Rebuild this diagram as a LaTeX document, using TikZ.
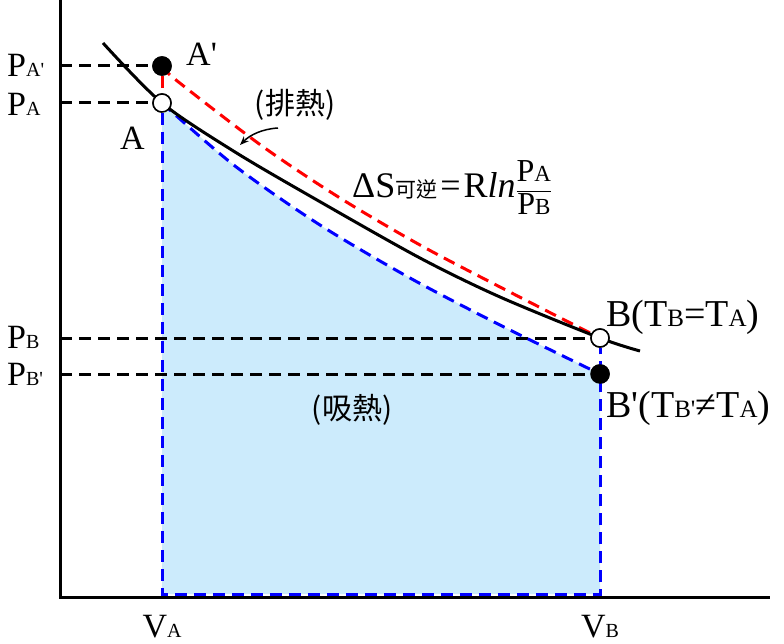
\documentclass[tikz,border=0pt]{standalone}
\usepackage{fontspec}
\setmainfont{Liberation Serif}[Ligatures=TeXOff]
\newfontfamily\cjk{Noto Sans CJK TC}
\usetikzlibrary{arrows.meta}
\definecolor{heatfill}{RGB}{204,235,252}
\newcommand{\lo}[1]{{\fontsize{20}{20}\selectfont #1}}
\newcommand{\lob}[1]{{\fontsize{25}{25}\selectfont #1}}
\newcommand{\lof}[1]{{\fontsize{23}{23}\selectfont #1}}

\begin{document}
\begin{tikzpicture}[x=1pt,y=-1pt,
  lab/.style={font=\fontsize{34}{40}\selectfont,inner sep=0pt},
  blab/.style={font=\fontsize{38}{44}\selectfont,inner sep=0pt},
  flab/.style={font=\rmfamily\fontsize{36}{42}\selectfont,inner sep=0pt},
  cjklab/.style={font=\cjk\fontsize{30}{32}\selectfont,inner sep=0pt},
  pt/.style={circle,draw,line width=1.5pt,minimum size=18pt,inner sep=0pt},
  open/.style={pt,fill=white},
  full/.style={pt,fill=black},
  guide/.style={line width=3pt,dash pattern=on 12pt off 7pt},
  axis/.style={line width=3pt}]
  \useasboundingbox (0,0) rectangle (784,644);
  \coordinate (top) at (60,0);
  \coordinate (o) at (60,597);
  \coordinate (right) at (770,597);
  \coordinate (pAp) at (60,66);
  \coordinate (pA) at (60,103);
  \coordinate (pB) at (60,338);
  \coordinate (pBp) at (60,374);
  \coordinate (VA) at (162,594);
  \coordinate (VB) at (600,594);
  \node[open] (A) at (162,103) {};
  \node[full] (Ap) at (162,66) {};
  \node[open] (B) at (600,338) {};
  \node[full] (Bp) at (600,374) {};

  \fill[heatfill] (VA) -- plot[smooth] coordinates {(162,103) (235,166) (320,225) (410,278) (500,325) (600,374)} -- (VB) -- cycle;
  \draw[axis] (top) -- (o) -- (right);

  \draw[guide] (pAp) -- (Ap);
  \draw[guide] (pA) -- (A);
  \draw[guide] (pB) -- (B);
  \draw[guide] (pBp) -- (Bp);

  \draw[guide,blue] (A) -- (VA) -- (VB) -- (B);
  \draw[guide,blue] plot[smooth] coordinates {(162,103) (235,166) (320,225) (410,278) (500,325) (600,374)};
  \draw[guide,red] (Ap) -- (A);
  \draw[guide,red] plot[smooth] coordinates {(162,66) (176,80) (262,146) (340,198) (420,245) (500,287) (600,338)};
  \draw[line width=3pt] plot[smooth] coordinates {(103,43) (162,103) (235,152) (317,200) (420,258) (500,297) (600,338) (640,351)};

  \node[open] at (A) {};
  \node[full] at (Ap) {};
  \node[open] at (B) {};
  \node[full] at (Bp) {};

  \node[lab,anchor=base west] (lpAp) at (7,77) {P\lo{A'}};
  \node[lab,anchor=base west] (lpA) at (7,116) {P\lo{A}};
  \node[lab,anchor=base west] (lpB) at (7,348) {P\lo{B}};
  \node[lab,anchor=base west] (lpBp) at (7,385) {P\lo{B'}};
  \node[lab,anchor=base] (lVA) at (162,637) {V\lo{A}};
  \node[lab,anchor=base] (lVB) at (600,637) {V\lo{B}};

  \node[lab,anchor=base west] (lAp) at (186,66) {A'};
  \node[lab,anchor=base west] (lA) at (120,150) {A};
  \node[blab,anchor=base west] (lB) at (606,326) {B(T\lob{B}=T\lob{A})};
  \node[blab,anchor=base west] (lBp) at (606,417) {B'(T\lob{B'}≠T\lob{A})};

  \node[cjklab] (out) at (295,105) {(排熱)};
  \node[cjklab] (in) at (352,410) {(吸熱)};
  \coordinate (arrS) at (278,128);
  \coordinate (arrE) at (240,145);
  \draw[-{Stealth[length=9pt,width=7pt]},line width=1.5pt] (arrS) .. controls (262,129) and (250,135) .. (arrE);

  \node[flab,anchor=base west] (dS) at (352,198) {\fontsize{36}{42}\selectfont\symbol{"0394}S{\cjk\fontsize{21}{21}\selectfont 可逆}\hspace{3pt}=\hspace{3pt}R\textit{ln}\hspace{1pt}{\fontsize{32}{32}\selectfont\setlength{\arrayrulewidth}{1.3pt}\begin{tabular}{@{}c@{}}P\lof{A}\\\hline P\lof{B}\end{tabular}}};
\end{tikzpicture}
\end{document}
